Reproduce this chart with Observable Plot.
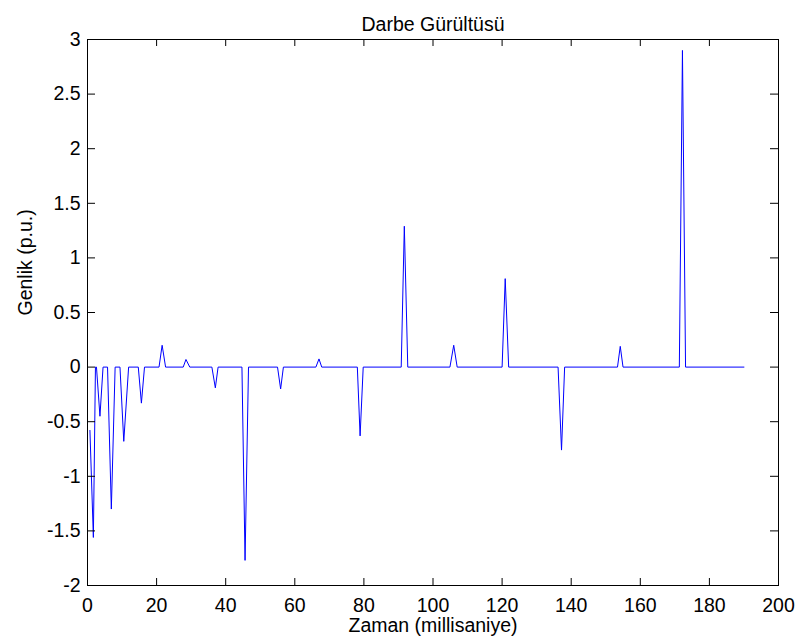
<!DOCTYPE html>
<html><head><meta charset="utf-8">
<script src="https://cdn.jsdelivr.net/npm/d3@7"></script>
<script src="https://cdn.jsdelivr.net/npm/@observablehq/plot@0.6"></script>
<style>body{margin:0;background:#fff} svg{display:block}</style>
</head><body><div id="chart"></div>
<script>
const title = "Darbe Gürültüsü";
const xLabel = "Zaman (millisaniye)";
const yLabel = "Genlik (p.u.)";
const times = [0.7, 1.7, 2.3, 2.6, 3.6, 4.5, 5.8, 6.9, 8.0, 9.4, 10.5, 11.9, 14.7, 15.6, 16.5,
  20.7, 21.6, 22.6, 27.7, 28.5, 29.6, 36.0, 37.0, 37.8, 44.7, 45.6, 46.6, 55.0, 55.9, 56.7,
  66.1, 67.0, 67.8, 78.1, 78.9, 79.8, 90.8, 91.7, 92.7, 104.9, 106.0, 107.0, 120.0, 120.9, 121.9,
  136.2, 137.2, 138.1, 153.4, 154.2, 155.0, 171.3, 172.2, 173.1, 190];
const amplitudes = [-0.58, -1.56, 0, 0, -0.45, 0, 0, -1.30, 0, 0, -0.68, 0, 0, -0.33, 0,
  0, 0.20, 0, 0, 0.07, 0, 0, -0.19, 0, 0, -1.77, 0, 0, -0.20, 0,
  0, 0.075, 0, 0, -0.63, 0, 0, 1.29, 0, 0, 0.20, 0, 0, 0.81, 0,
  0, -0.76, 0, 0, 0.19, 0, 0, 2.90, 0, 0];
const xTicks = [0, 20, 40, 60, 80, 100, 120, 140, 160, 180, 200];
const yTicks = [-2, -1.5, -1, -0.5, 0, 0.5, 1, 1.5, 2, 2.5, 3];

const W = 799, H = 644, mL = 87, mR = 21, mT = 39, mB = 59;
const fw = W - mL - mR, fh = H - mT - mB;
const font = "'Liberation Sans', Arial, Helvetica, sans-serif";
const fs = 19.5;

const chart = Plot.plot({
  width: W, height: H,
  marginLeft: mL, marginRight: mR, marginTop: mT, marginBottom: mB,
  style: {fontFamily: font, fontSize: fs + "px", background: "#fff", color: "#000"},
  x: {domain: [0, 200], axis: null},
  y: {domain: [-2, 3], axis: null},
  marks: [
    Plot.line(times, {x: times, y: amplitudes, stroke: "#0000ff", strokeWidth: 1}),
    Plot.frame({stroke: "#000", strokeWidth: 1}),
    Plot.tickX(xTicks, {x: d => d, insetTop: fh - 7, stroke: "#000"}),
    Plot.tickX(xTicks, {x: d => d, insetBottom: fh - 7, stroke: "#000"}),
    Plot.tickY(yTicks, {y: d => d, insetRight: fw - 8, stroke: "#000"}),
    Plot.tickY(yTicks, {y: d => d, insetLeft: fw - 8, stroke: "#000"}),
    Plot.axisX({ticks: xTicks, anchor: "bottom", tickSize: 0, tickPadding: 13, tickFormat: d => String(d), fontSize: fs, label: null}),
    Plot.axisY({ticks: yTicks, anchor: "left", tickSize: 0, tickPadding: 7, tickFormat: d => String(d), fontSize: fs, label: null}),
    Plot.text([title], {text: d => d, frameAnchor: "top", dy: -22.4, fontSize: fs}),
    Plot.text([xLabel], {text: d => d, frameAnchor: "bottom", dy: 46.8, fontSize: fs}),
    Plot.text([yLabel], {text: d => d, frameAnchor: "left", rotate: -90, dx: -61.5, dy: 3, fontSize: fs})
  ]
});
document.getElementById("chart").appendChild(chart);
</script>
</body></html>
